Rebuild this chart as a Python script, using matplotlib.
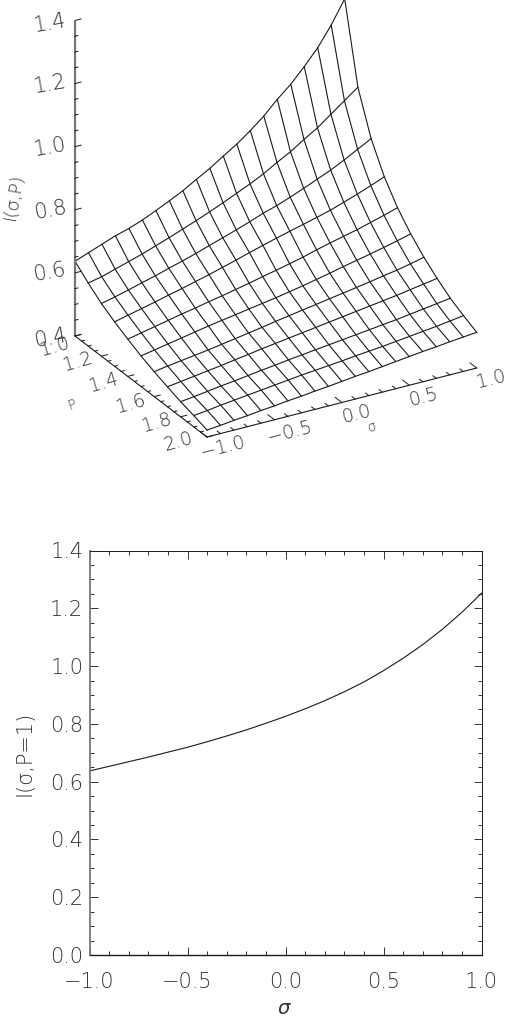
import numpy as np
import matplotlib
matplotlib.use("Agg")
import matplotlib.pyplot as plt

plt.rcParams['font.family'] = ['DejaVu Sans']
plt.rcParams['font.weight'] = 'light'

# sigma and P grid of the surface
sigma = [-1.0, -0.9, -0.8, -0.7, -0.6, -0.5, -0.4, -0.3, -0.2, -0.1, 0.0,
         0.1, 0.2, 0.3, 0.4, 0.5, 0.6, 0.7, 0.8, 0.9, 1.0]
p_vals = [1.0, 1.1, 1.2, 1.3, 1.4, 1.5, 1.6, 1.7, 1.8, 1.9, 2.0]

# I(sigma, P), one list per P
i_p10 = [0.637, 0.653, 0.669, 0.685, 0.697, 0.713, 0.732, 0.752, 0.773, 0.798, 0.822,
         0.850, 0.877, 0.909, 0.944, 0.986, 1.023, 1.068, 1.117, 1.178, 1.250]
i_p11 = [0.600, 0.609, 0.622, 0.635, 0.648, 0.663, 0.678, 0.694, 0.710, 0.727, 0.745,
         0.764, 0.783, 0.804, 0.829, 0.852, 0.880, 0.906, 0.938, 0.970, 1.002]
i_p12 = [0.567, 0.577, 0.588, 0.600, 0.611, 0.624, 0.636, 0.649, 0.663, 0.677, 0.691,
         0.706, 0.722, 0.735, 0.751, 0.768, 0.786, 0.804, 0.825, 0.848, 0.871]
i_p13 = [0.541, 0.551, 0.561, 0.571, 0.582, 0.592, 0.603, 0.614, 0.626, 0.638, 0.651,
         0.663, 0.675, 0.686, 0.697, 0.708, 0.720, 0.734, 0.749, 0.765, 0.782]
i_p14 = [0.518, 0.527, 0.536, 0.545, 0.554, 0.562, 0.571, 0.579, 0.588, 0.597, 0.607,
         0.616, 0.626, 0.636, 0.648, 0.659, 0.669, 0.679, 0.691, 0.703, 0.716]
i_p15 = [0.497, 0.505, 0.513, 0.521, 0.529, 0.537, 0.544, 0.551, 0.558, 0.565, 0.572,
         0.580, 0.588, 0.597, 0.606, 0.616, 0.625, 0.634, 0.644, 0.654, 0.665]
i_p16 = [0.479, 0.486, 0.492, 0.498, 0.504, 0.511, 0.518, 0.525, 0.532, 0.540, 0.547,
         0.554, 0.561, 0.568, 0.575, 0.582, 0.589, 0.597, 0.604, 0.613, 0.623]
i_p17 = [0.463, 0.469, 0.475, 0.481, 0.487, 0.494, 0.500, 0.507, 0.513, 0.519, 0.525,
         0.531, 0.537, 0.543, 0.549, 0.555, 0.561, 0.567, 0.574, 0.581, 0.588]
i_p18 = [0.448, 0.453, 0.459, 0.465, 0.470, 0.476, 0.482, 0.487, 0.493, 0.498, 0.503,
         0.508, 0.513, 0.518, 0.523, 0.528, 0.533, 0.539, 0.545, 0.551, 0.557]
i_p19 = [0.436, 0.441, 0.447, 0.452, 0.457, 0.462, 0.467, 0.472, 0.477, 0.481, 0.485,
         0.489, 0.494, 0.498, 0.502, 0.507, 0.512, 0.517, 0.522, 0.528, 0.534]
i_p20 = [0.422, 0.426, 0.431, 0.435, 0.440, 0.444, 0.449, 0.453, 0.458, 0.462, 0.467,
         0.472, 0.476, 0.481, 0.486, 0.491, 0.496, 0.500, 0.505, 0.509, 0.513]

# lower panel, P = 1
curve = [0.637, 0.653, 0.669, 0.685, 0.702, 0.719, 0.738, 0.758, 0.779, 0.802, 0.826,
         0.852, 0.880, 0.911, 0.945, 0.984, 1.027, 1.074, 1.127, 1.186, 1.252]

surface = np.array([i_p10, i_p11, i_p12, i_p13, i_p14, i_p15,
                    i_p16, i_p17, i_p18, i_p19, i_p20])

ink = '#1a1a1a'
text_col = '#333333'

fig = plt.figure(figsize=(5.09, 10.16), dpi=100)


# oblique view of the box, result in image pixels
def view(s, p, z):
    s = np.asarray(s, dtype=float)
    p = np.asarray(p, dtype=float)
    z = np.asarray(z, dtype=float)
    px = 75 + (s + 1) / 2 * 269.7 + (p - 1) * 132
    py = 336 - (s + 1) / 2 * 69 + (p - 1) * 101 - (z - 0.4) * 315.5
    return px, py


top = fig.add_axes([0, 0, 1, 1])
top.set_xlim(0, 509)
top.set_ylim(1016, 0)
top.axis('off')

# the mesh
for j, p in enumerate(p_vals):
    px, py = view(sigma, p, surface[j])
    top.plot(px, py, color=ink, lw=0.8)
for k, s in enumerate(sigma):
    px, py = view(s, p_vals, surface[:, k])
    top.plot(px, py, color=ink, lw=0.8)

# box axes
px, py = view([-1, -1], [1, 1], [0.4, 1.4])
top.plot(px, py, color='#777777', lw=1.6, solid_capstyle='butt')
px, py = view([-1, -1], [1, 2], [0.4, 0.4])
top.plot(px, py, color=ink, lw=0.8)
px, py = view([-1, 1], [2, 2], [0.4, 0.4])
top.plot(px, py, color=ink, lw=0.8)


def tick3d(a, b, color=ink):
    px, py = view([a[0], b[0]], [a[1], b[1]], [a[2], b[2]])
    top.plot(px, py, color=color, lw=0.7)


for z in np.arange(0.4, 1.41, 0.05):
    is_major = abs(z * 5 - round(z * 5)) < 1e-6
    tick3d((-1, 1, z), (-1 + (0.045 if is_major else 0.022), 1, z))
for p in np.arange(1.0, 2.01, 0.05):
    is_major = abs(p * 5 - round(p * 5)) < 1e-6
    tick3d((-1, p, 0.4), (-1 + (0.045 if is_major else 0.022), p, 0.4))
for s in np.arange(-1.0, 1.01, 0.1):
    is_major = abs(s * 2 - round(s * 2)) < 1e-6
    tick3d((s, 2, 0.4), (s, 2 - (0.05 if is_major else 0.025), 0.4))

z_labels = ['1.4', '1.2', '1.0', '0.8', '0.6', '0.4']
z_pos = [(50, 23), (50, 84), (50, 147), (50, 210), (49, 272), (50, 338)]
for lab, (x, y) in zip(z_labels, z_pos):
    top.text(x, y, lab, fontsize=15, color=text_col, rotation=10,
             ha='center', va='center')

p_labels = ['1.0', '1.2', '1.4', '1.6', '1.8', '2.0']
p_pos = [(55, 347), (78, 362), (104, 383), (131, 404), (157, 423), (178, 442)]
for lab, (x, y) in zip(p_labels, p_pos):
    top.text(x, y, lab, fontsize=13.5, color=text_col, rotation=16,
             ha='center', va='center')

s_labels = ['\u22121.0', '\u22120.5', '0.0', '0.5', '1.0']
s_pos = [(223, 447), (290, 432), (356, 414), (423, 397), (491, 379)]
for lab, (x, y) in zip(s_labels, s_pos):
    top.text(x, y, lab, fontsize=13.5, color=text_col, rotation=14,
             ha='center', va='center')

top.text(72, 405, 'P', fontsize=10, color=text_col, rotation=20, ha='center', va='center')
top.text(372, 427, '\u03c3', fontsize=10, color=text_col, rotation=14, ha='center', va='center')
top.text(14, 197, 'I(\u03c3,P)', fontsize=13, color=text_col, rotation=80,
         ha='center', va='center')

# lower panel
ax = fig.add_axes([89.5 / 509, 1 - 955 / 1016, 392 / 509, 404.5 / 1016])
ax.plot(sigma, curve, color=ink, lw=0.8)
ax.set_xlim(-1, 1)
ax.set_ylim(0, 1.4)

ax.set_xticks([-1.0, -0.5, 0.0, 0.5, 1.0])
ax.set_xticklabels(['\u22121.0', '\u22120.5', '0.0', '0.5', '1.0'])
ax.set_yticks([0.0, 0.2, 0.4, 0.6, 0.8, 1.0, 1.2, 1.4])
ax.set_xticks(np.arange(-1.0, 1.01, 0.1), minor=True)
ax.set_yticks(np.arange(0.0, 1.41, 0.05), minor=True)

ax.tick_params(which='major', direction='in', length=5.8, width=0.7, color='#333333',
               top=True, right=True, labelsize=15, labelcolor=text_col, pad=4.5)
ax.tick_params(which='minor', direction='in', length=2.9, width=0.7, color='#333333',
               top=True, right=True)
ax.tick_params(axis='x', which='major', pad=12)

ax.spines['left'].set_linewidth(1.3)
ax.spines['left'].set_color('#777777')
ax.spines['bottom'].set_linewidth(1.0)
ax.spines['bottom'].set_color(ink)
ax.spines['top'].set_linewidth(0.7)
ax.spines['top'].set_color(ink)
ax.spines['right'].set_linewidth(0.7)
ax.spines['right'].set_color(ink)

fig.text(24 / 509, 1 - 753 / 1016, 'I(\u03c3,P=1)', fontsize=15, color=text_col,
         rotation=90, ha='center', va='center')
fig.text(284 / 509, 1 - 1008 / 1016, '\u03c3', fontsize=14, color=text_col,
         style='italic', ha='center', va='center')

fig.savefig('out.png', dpi=100)
